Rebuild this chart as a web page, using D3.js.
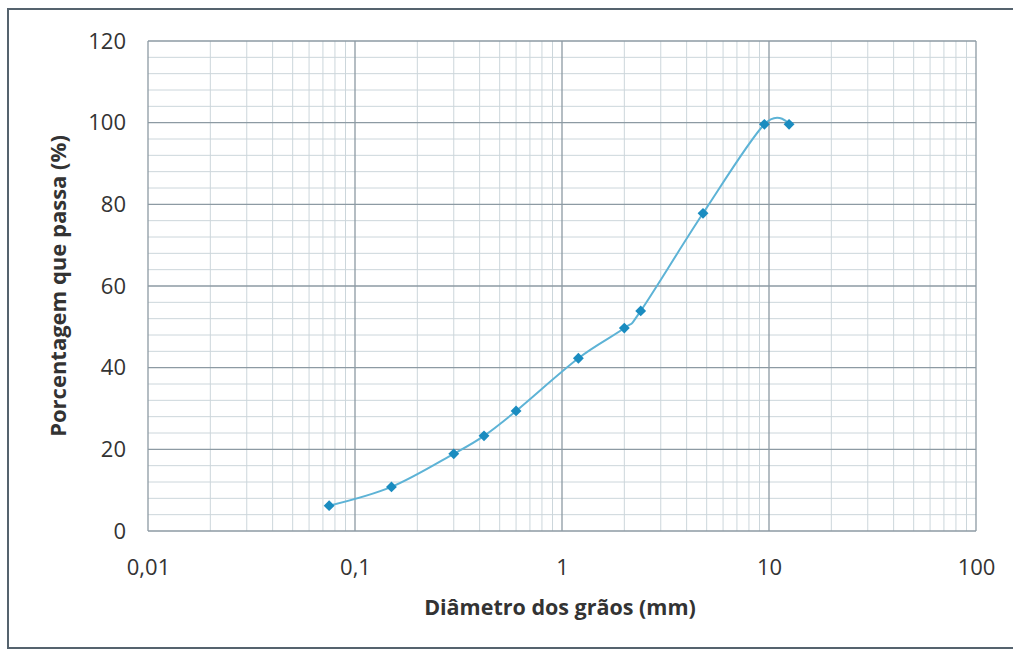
<!DOCTYPE html>
<html>
<head>
<meta charset="utf-8">
<script src="https://cdn.jsdelivr.net/npm/d3@7"></script>
<style>
  body { margin: 0; background: #fff; }
  text { font-family: "Open Sans", "Liberation Sans", sans-serif; fill: #333; }
</style>
</head>
<body>
<div id="chart"></div>
<script>
// peneiras (mm) e % que passa
const diametros = [0.075, 0.15, 0.3, 0.42, 0.6, 1.2, 2.0, 2.4, 4.8, 9.5, 12.5];
const passantes = [6.2, 10.8, 18.9, 23.3, 29.4, 42.3, 49.7, 53.9, 77.8, 99.6, 99.6];
const xTicks = [0.01, 0.1, 1, 10, 100];
const xTickLabels = ["0,01", "0,1", "1", "10", "100"];
const yTicks = [0, 20, 40, 60, 80, 100, 120];

const W = 1013, H = 651;
const mLeft = 148, mRight = 976, mTop = 41, mBottom = 531;

const svg = d3.select("#chart").append("svg")
  .attr("width", W).attr("height", H);

// moldura
svg.append("path")
  .attr("d", "M1013,9 L8,9 L8,648 L1013,648")
  .attr("fill", "none").attr("stroke", "#55636e").attr("stroke-width", 2);

const x = d3.scaleLog().domain([0.01, 100]).range([mLeft, mRight]);
const y = d3.scaleLinear().domain([0, 120]).range([mBottom, mTop]);

const grid = svg.append("g");

// grade menor vertical (2..9 em cada década)
let minorX = [];
xTicks.slice(0, -1).forEach(d => {
  for (let k = 2; k <= 9; k++) minorX.push(d * k);
});
grid.selectAll(".mx").data(minorX).enter().append("line")
  .attr("x1", d => x(d)).attr("x2", d => x(d))
  .attr("y1", mTop).attr("y2", mBottom)
  .attr("stroke", "#ccd6db").attr("stroke-width", 1);

// grade menor horizontal (a cada 4)
const minorY = d3.range(0, 121, 4).filter(v => v % 20 !== 0);
grid.selectAll(".my").data(minorY).enter().append("line")
  .attr("x1", mLeft).attr("x2", mRight)
  .attr("y1", d => y(d)).attr("y2", d => y(d))
  .attr("stroke", "#ccd6db").attr("stroke-width", 1);

// grade principal
grid.selectAll(".Mx").data(xTicks).enter().append("line")
  .attr("x1", d => x(d)).attr("x2", d => x(d))
  .attr("y1", mTop).attr("y2", mBottom)
  .attr("stroke", "#8d9aa3").attr("stroke-width", 1.3);
grid.selectAll(".My").data(yTicks).enter().append("line")
  .attr("x1", mLeft).attr("x2", mRight)
  .attr("y1", d => y(d)).attr("y2", d => y(d))
  .attr("stroke", "#8d9aa3").attr("stroke-width", 1.3);

// eixos (só rótulos)
const xAxis = svg.append("g")
  .attr("transform", "translate(0," + mBottom + ")")
  .call(d3.axisBottom(x).tickValues(xTicks)
    .tickFormat((d, i) => xTickLabels[i]).tickSize(0).tickPadding(28));
xAxis.select(".domain").remove();
xAxis.selectAll("text").style("font-size", "22px").attr("fill", "#333");

const yAxis = svg.append("g")
  .attr("transform", "translate(" + mLeft + ",0)")
  .call(d3.axisLeft(y).tickValues(yTicks).tickSize(0).tickPadding(22));
yAxis.select(".domain").remove();
yAxis.selectAll("text").style("font-size", "22px").attr("fill", "#333");

// títulos
svg.append("text")
  .attr("x", (mLeft + mRight) / 2 - 2).attr("y", 615)
  .attr("text-anchor", "middle")
  .style("font-size", "21.5px").style("font-weight", "bold")
  .text("Diâmetro dos grãos (mm)");

svg.append("text")
  .attr("transform", "translate(66," + ((mTop + mBottom) / 2) + ") rotate(-90)")
  .attr("text-anchor", "middle")
  .style("font-size", "22px").style("font-weight", "bold")
  .text("Porcentagem que passa (%)");

// curva granulométrica
const data = diametros.map((d, i) => ({ d: d, p: passantes[i] }));
const line = d3.line()
  .x(v => x(v.d)).y(v => y(v.p))
  .curve(d3.curveCardinal.tension(0));

svg.append("path").datum(data)
  .attr("d", line)
  .attr("fill", "none")
  .attr("stroke", "#5db3d6").attr("stroke-width", 2);

svg.selectAll(".pt").data(data).enter().append("path")
  .attr("transform", v => "translate(" + x(v.d) + "," + y(v.p) + ")")
  .attr("d", d3.symbol().type(d3.symbolDiamond2).size(75))
  .attr("fill", "#1a8cc0");
</script>
</body>
</html>
